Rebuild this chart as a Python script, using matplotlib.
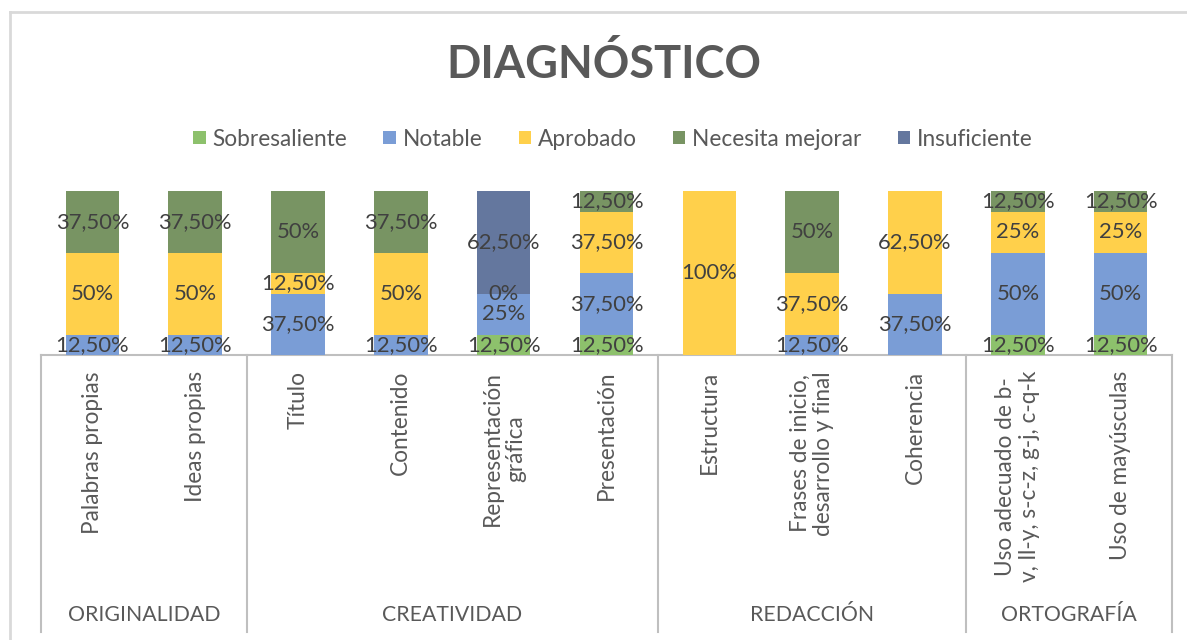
import matplotlib
matplotlib.use("Agg")
import matplotlib.pyplot as plt
import matplotlib.transforms as mtransforms
from matplotlib.lines import Line2D
import numpy as np

plt.rcParams['font.family'] = ['Lato', 'DejaVu Sans']

categories = ["Palabras propias", "Ideas propias", "Título", "Contenido",
              "Representación\ngráfica", "Presentación", "Estructura",
              "Frases de inicio,\ndesarrollo y final", "Coherencia",
              "Uso adecuado de b-\nv, ll-y, s-c-z, g-j, c-q-k", "Uso de mayúsculas"]
groups = ["ORIGINALIDAD", "CREATIVIDAD", "REDACCIÓN", "ORTOGRAFÍA"]
group_sizes = [2, 4, 3, 2]

series_names = ["Sobresaliente", "Notable", "Aprobado", "Necesita mejorar", "Insuficiente"]
sobresaliente = [None, None, None, None, 12.5, 12.5, None, None, None, 12.5, 12.5]
notable       = [12.5, 12.5, 37.5, 12.5, 25.0, 37.5, None, 12.5, 37.5, 50.0, 50.0]
aprobado      = [50.0, 50.0, 12.5, 50.0, 0.0, 37.5, 100.0, 37.5, 62.5, 25.0, 25.0]
necesita      = [37.5, 37.5, 50.0, 37.5, None, 12.5, None, 50.0, None, 12.5, 12.5]
insuficiente  = [None, None, None, None, 62.5, None, None, None, None, None, None]
series = [sobresaliente, notable, aprobado, necesita, insuficiente]
colors = ["#8DC16C", "#7A9DD6", "#FFD04B", "#789463", "#64779E"]

W, H = 1187, 640
fig = plt.figure(figsize=(W / 100, H / 100), dpi=100)

# chart border (light gray)
fig.add_artist(Line2D([10 / W, 10 / W], [0, 1 - 12 / H], transform=fig.transFigure,
                      color="#D9D9D9", lw=2))
fig.add_artist(Line2D([10 / W, 1], [1 - 12 / H, 1 - 12 / H], transform=fig.transFigure,
                      color="#D9D9D9", lw=2))

ax_left, ax_right, ax_bot, ax_top = 41, 1172, 355, 191
ax = fig.add_axes([ax_left / W, 1 - ax_bot / H, (ax_right - ax_left) / W, (ax_bot - ax_top) / H])
n = len(categories)
x = np.arange(n)
bottom = np.zeros(n)
handles = []
for name, vals, c in zip(series_names, series, colors):
    v = np.array([0.0 if a is None else a for a in vals])
    b = ax.bar(x, v, 0.52, bottom=bottom, color=c, label=name, zorder=2)
    handles.append(b)
    for i, a in enumerate(vals):
        if a is None:
            continue
        yc = bottom[i] + a / 2
        txt = ("%g" % a).replace(".", ",")
        if "," in txt:
            txt = txt + "0" if len(txt.split(",")[1]) == 1 else txt
        ax.text(i, yc, txt + "%", ha="center", va="center", fontsize=15.8,
                color="#404040", zorder=3)
    bottom += v

ax.set_xlim(-0.5, n - 0.5)
ax.set_ylim(0, 100)
ax.axis("off")

axh = ax_bot - ax_top
trans = mtransforms.blended_transform_factory(ax.transData, ax.transAxes)
line_c = "#BFBFBF"
# horizontal axis line
ax.plot([-0.5, n - 0.5], [0, 0], transform=trans, color=line_c, lw=1.5, clip_on=False, zorder=1)
# group separators
edges = np.concatenate([[0], np.cumsum(group_sizes)]) - 0.5
ybottom = -(632 - ax_bot) / axh
for e in edges:
    ax.plot([e, e], [0, ybottom], transform=trans, color=line_c, lw=1.5, clip_on=False)

# category labels
for i, cat in enumerate(categories):
    ax.text(i, -(371 - ax_bot) / axh, cat, rotation=90, ha="center", va="top",
            multialignment="center", fontsize=16.3, color="#595959", transform=trans,
            linespacing=1.15)

# group labels
for g, (a, b) in zip(groups, zip(edges[:-1], edges[1:])):
    ax.text((a + b) / 2, -(615 - ax_bot) / axh, g, ha="center", va="center",
            fontsize=15.3, color="#595959", transform=trans)

fig.text(604 / W, 1 - 65 / H, "DIAGNÓSTICO", ha="center", va="center", fontsize=32.5,
         fontweight="bold", color="#595959")

fig.legend(handles=handles, labels=series_names, loc="center", ncol=5,
           bbox_to_anchor=(613 / W, 1 - 139 / H), frameon=False, fontsize=16.3,
           handlelength=0.55, handleheight=0.55, handletextpad=0.3, columnspacing=1.6,
           labelcolor="#595959")

fig.savefig("out.png", dpi=100)
